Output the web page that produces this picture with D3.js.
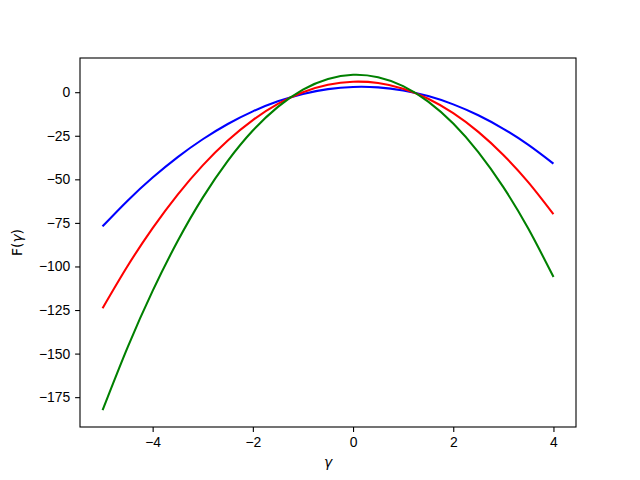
<!DOCTYPE html>
<html>
<head>
<meta charset="utf-8">
<script src="https://cdn.jsdelivr.net/npm/d3@7"></script>
<style>
  body { margin: 0; background: #fff; }
  svg { display: block; font-family: "DejaVu Sans", sans-serif; }
  .tick text { font-size: 13.9px; fill: #000; }
  .tick line { stroke: #000; stroke-width: 1.1; }
  .domain { display: none; }
</style>
</head>
<body>
<div class="gv-chart"></div>
<script>
// gamma values
var gammas = [-5, -4.5, -4, -3.5, -3, -2.5, -2, -1.5, -1, -0.5, 0, 0.5, 1, 1.5, 2, 2.5, 3, 3.5, 4];

var blueVals = [-77, -62.25, -49, -37.25, -27, -18.25, -11, -5.25, -1, 1.75, 3, 2.75, 1, -2.25, -7, -13.25, -21, -30.25, -41];
var redVals = [-124, -99.75, -78, -58.75, -42, -27.75, -16, -6.75, 0, 4.25, 6, 5.25, 2, -3.75, -12, -22.75, -36, -51.75, -70];
var greenVals = [-182.5, -146.4, -114, -85.4, -60.5, -39.4, -22, -8.4, 1.5, 7.6, 10, 8.6, 3.5, -5.4, -18, -34.4, -54.5, -78.4, -106];

var seriesColours = ["blue", "red", "green"];
var xTicks = [-4, -2, 0, 2, 4];
var yTicks = [0, -25, -50, -75, -100, -125, -150, -175];

var width = 640, height = 480;
var plotLeft = 80, plotRight = 576, plotTop = 58, plotBottom = 427;

var svg = d3.select(".gv-chart").append("svg")
    .attr("width", width)
    .attr("height", height)

var series = [blueVals, redVals, greenVals].map((vals, i) => {
    return { colour: seriesColours[i], points: gammas.map((g, j) => [g, vals[j]]) }
})

// matplotlib style 5% padding
var xMin = d3.min(gammas), xMax = d3.max(gammas);
var xPad = (xMax - xMin) * 0.05;
var allY = [].concat(blueVals, redVals, greenVals);
var yMin = d3.min(allY), yMax = d3.max(allY);
var yPad = (yMax - yMin) * 0.05;

var x = d3.scaleLinear().domain([xMin - xPad, xMax + xPad]).range([plotLeft, plotRight]);
var y = d3.scaleLinear().domain([yMin - yPad, yMax + yPad]).range([plotBottom, plotTop]);

var fmt = d => String(d).replace("-", "\u2212");

svg.append("g")
    .attr("transform", `translate(0,${plotBottom})`)
    .call(d3.axisBottom(x).tickValues(xTicks).tickSize(4.9).tickPadding(4.9).tickFormat(fmt))

svg.append("g")
    .attr("transform", `translate(${plotLeft},0)`)
    .call(d3.axisLeft(y).tickValues(yTicks).tickSize(4.9).tickPadding(4.9).tickFormat(fmt))

var line = d3.line()
    .x(d => x(d[0]))
    .y(d => y(d[1]))
    .curve(d3.curveNatural)

svg.append("g").selectAll("path")
    .data(series)
    .enter()
    .append("path")
    .attr("d", d => line(d.points))
    .attr("fill", "none")
    .attr("stroke", d => d.colour)
    .attr("stroke-width", 2.08)

// frame
svg.append("rect")
    .attr("x", plotLeft)
    .attr("y", plotTop)
    .attr("width", plotRight - plotLeft)
    .attr("height", plotBottom - plotTop)
    .attr("fill", "none")
    .attr("stroke", "#000")
    .attr("stroke-width", 1.1)

svg.append("text")
    .attr("x", (plotLeft + plotRight) / 2)
    .attr("y", 467)
    .attr("text-anchor", "middle")
    .style("font-size", "13.9px")
    .style("font-style", "italic")
    .text("γ")

var yl = svg.append("text")
    .attr("transform", `translate(22,${(plotTop + plotBottom) / 2}) rotate(-90)`)
    .attr("text-anchor", "middle")
    .style("font-size", "13.9px")
yl.append("tspan").text("F(")
yl.append("tspan").style("font-style", "italic").text("γ")
yl.append("tspan").text(")")
</script>
</body>
</html>
